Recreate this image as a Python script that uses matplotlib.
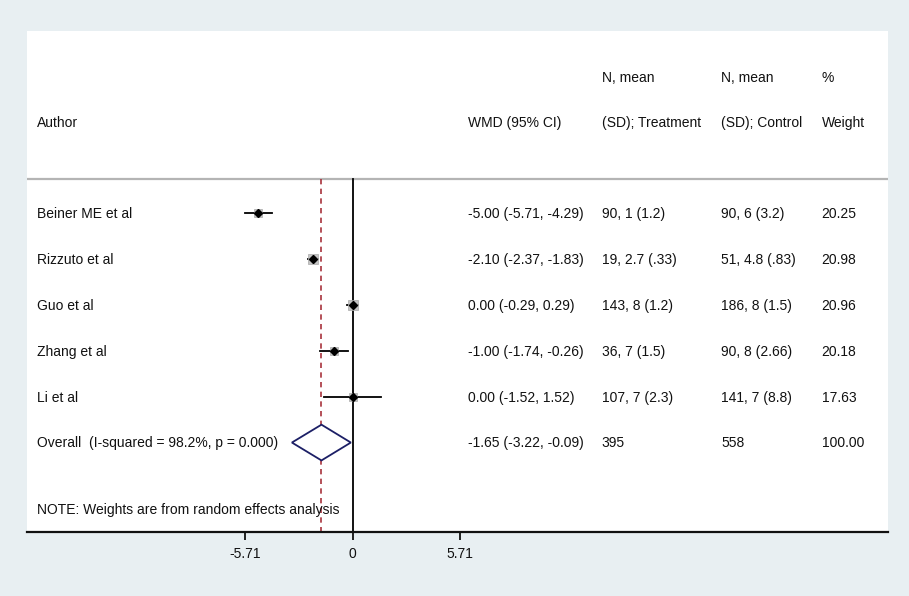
import numpy as np
import matplotlib
matplotlib.use('Agg')
import matplotlib.pyplot as plt
import matplotlib.transforms as mtransforms

plt.rcParams['font.family'] = ['Liberation Sans', 'DejaVu Sans']

# study data
authors   = ['Beiner ME et al', 'Rizzuto et al', 'Guo et al', 'Zhang et al', 'Li et al']
wmd       = [-5.00, -2.10, 0.00, -1.00, 0.00]
ci_low    = [-5.71, -2.37, -0.29, -1.74, -1.52]
ci_high   = [-4.29, -1.83, 0.29, -0.26, 1.52]
treat_n   = ['90', '19', '143', '36', '107']
treat_m   = ['1', '2.7', '8', '7', '7']
treat_sd  = ['1.2', '.33', '1.2', '1.5', '2.3']
ctrl_n    = ['90', '51', '186', '90', '141']
ctrl_m    = ['6', '4.8', '8', '8', '7']
ctrl_sd   = ['3.2', '.83', '1.5', '2.66', '8.8']
weights   = [20.25, 20.98, 20.96, 20.18, 17.63]

# pooled estimate
overall_wmd = -1.65
overall_low = -3.22
overall_high = -0.09
overall_treat_n = 395
overall_ctrl_n = 558
overall_weight = 100.00
i_squared = 98.2
p_value = 0.000

tick_vals = [-5.71, 0, 5.71]
tick_labels = ['-5.71', '0', '5.71']

bg = '#e8eff2'
fs = 10

fig = plt.figure(figsize=(9.09, 5.96), dpi=100, facecolor=bg)
W, H = 909, 596
ax = fig.add_axes([27/W, 1-532/H, (888-27)/W, (532-31)/H])
ax.set_facecolor('white')

# x: effect scale, y: row index (0 = first study)
ax.set_xlim(-17.29, 28.44)
ax.set_ylim(6.951, -3.976)

for s in ['top', 'left', 'right']:
    ax.spines[s].set_visible(False)
ax.spines['bottom'].set_linewidth(1.6)
ax.spines['bottom'].set_color('#111111')
ax.set_xticks(tick_vals)
ax.set_xticklabels(tick_labels, fontsize=fs)
ax.tick_params(axis='x', length=6, width=1.3, pad=4.5, colors='#111111')
ax.set_yticks([])

line_y = -0.747
ax.axhline(line_y, color='#b4b4b4', lw=1.6, zorder=1)

# reference lines
ax.plot([0, 0], [line_y, 6.951], color='black', lw=1.3, zorder=2, clip_on=False)
ax.plot([overall_wmd, overall_wmd], [line_y, 6.951], color='#a8323c', lw=1.2,
        ls=(0, (3.2, 2.6)), zorder=2)

rows = np.arange(len(authors))
for i in rows:
    ax.plot([ci_low[i], ci_high[i]], [i, i], color='black', lw=1.3, zorder=3)
    # weight box
    ax.plot(wmd[i], i, marker='s', ms=6.5*np.sqrt(weights[i]/20.5), color='#c4c4c4',
            mec='#a8a8a8', mew=0.5, zorder=4)
    ax.plot(wmd[i], i, marker='D', ms=4.2, color='black', zorder=5)

# pooled diamond
oy = len(authors)
dx = [overall_low, overall_wmd, overall_high, overall_wmd, overall_low]
dy = [oy, oy - 0.39, oy, oy + 0.39, oy]
ax.fill(dx, dy, facecolor='white', edgecolor='#1c1f66', lw=1.3, zorder=6)

# text columns
tr = mtransforms.blended_transform_factory(ax.transAxes, ax.transData)
cx = [0.0113, 0.512, 0.6675, 0.806, 0.923]

def put(x, y, s):
    ax.text(x, y, s, transform=tr, fontsize=fs, ha='left', va='center', color='#111111')

h1, h2 = -2.95, -1.97
put(cx[0], h2, 'Author')
put(cx[1], h2, 'WMD (95% CI)')
put(cx[2], h1, 'N, mean')
put(cx[2], h2, '(SD); Treatment')
put(cx[3], h1, 'N, mean')
put(cx[3], h2, '(SD); Control')
put(cx[4], h1, '%')
put(cx[4], h2, 'Weight')

for i in rows:
    put(cx[0], i + 0.02, authors[i])
    put(cx[1], i + 0.02, f'{wmd[i]:.2f} ({ci_low[i]:.2f}, {ci_high[i]:.2f})')
    put(cx[2], i + 0.02, f'{treat_n[i]}, {treat_m[i]} ({treat_sd[i]})')
    put(cx[3], i + 0.02, f'{ctrl_n[i]}, {ctrl_m[i]} ({ctrl_sd[i]})')
    put(cx[4], i + 0.02, f'{weights[i]:.2f}')

put(cx[0], oy, f'Overall  (I-squared = {i_squared:.1f}%, p = {p_value:.3f})')
put(cx[1], oy, f'{overall_wmd:.2f} ({overall_low:.2f}, {overall_high:.2f})')
put(cx[2], oy, str(overall_treat_n))
put(cx[3], oy, str(overall_ctrl_n))
put(cx[4], oy, f'{overall_weight:.2f}')

put(cx[0], 6.47, 'NOTE: Weights are from random effects analysis')

fig.savefig('out.png', dpi=100, facecolor=bg)
